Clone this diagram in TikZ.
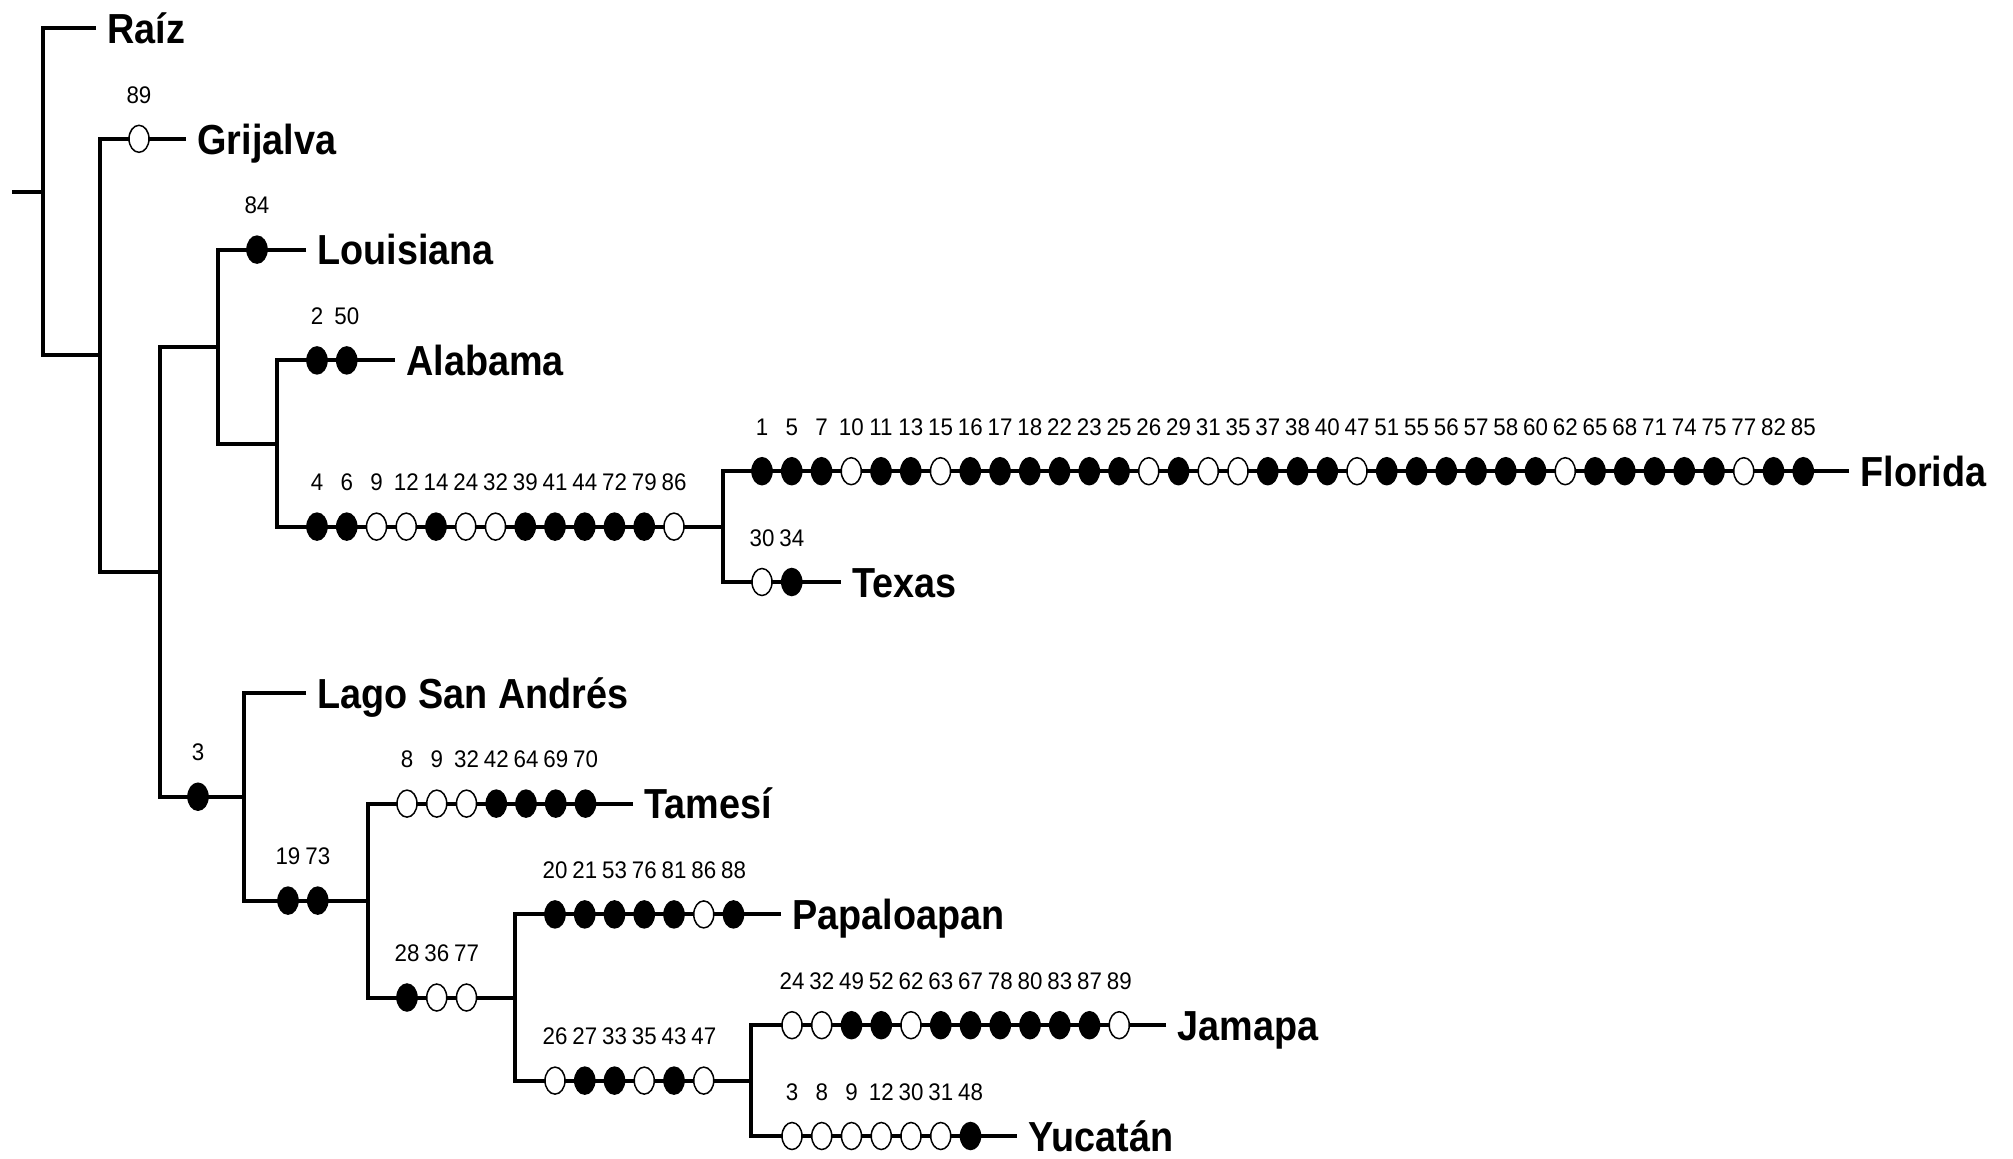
\documentclass[tikz,border=0pt]{standalone}
\usepackage{fontspec}
\setmainfont{Liberation Sans}
\newfontfamily\taxfam[FakeStretch=0.9]{Liberation Sans}
\newfontfamily\numfam[FakeStretch=0.93]{Liberation Sans}
\usetikzlibrary{shapes.geometric}
\colorlet{F}{black}
\colorlet{O}{white}
\newcommand\mutrow[4]{%
  \foreach \lab/\f [count=\i] in {#4}{%
    \node[mut, fill=\f] (#1\i) at ({#2+(\i-1)*29.75},{#3}) {};
    \node[num] (#1n\i) at ({#2+(\i-1)*29.75},{#3-44}) {\lab};
  }}
\begin{document}
\begin{tikzpicture}[x=0.5pt,y=-0.5pt,
  br/.style={line width=2pt, line join=miter},
  mut/.style={ellipse, draw, line width=0.75pt, minimum width=10pt, minimum height=13.5pt, inner sep=0pt},
  num/.style={font=\numfam\fontsize{12pt}{14pt}\selectfont, inner sep=0pt},
  tax/.style={anchor=base west, xshift=5.5pt, yshift=-7.6pt, inner sep=0pt,
    font=\taxfam\bfseries\fontsize{21pt}{25pt}\selectfont}]
\useasboundingbox (0,0) rectangle (2013,1158);
% internal nodes
\coordinate (stub) at (12,191.6);
\coordinate (c0) at (43,191.6);
\coordinate (c1) at (100,355.2);
\coordinate (c2) at (160,571.6);
\coordinate (cL) at (218,346.5);
\coordinate (cA) at (277,443.5);
\coordinate (cF) at (723,526.6);
\coordinate (cS) at (244,796.7);
\coordinate (cT) at (368,900.6);
\coordinate (cP) at (515,997.5);
\coordinate (cJ) at (751,1080.6);
% tip line ends
\coordinate (eRaiz) at (96,28);
\coordinate (eGri) at (186,138.8);
\coordinate (eLou) at (306,249.6);
\coordinate (eAla) at (395,360.4);
\coordinate (eFlo) at (1849,471.2);
\coordinate (eTex) at (841,582);
\coordinate (eLago) at (306,692.8);
\coordinate (eTam) at (633,803.6);
\coordinate (ePap) at (781,914.4);
\coordinate (eJam) at (1166,1025.2);
\coordinate (eYuc) at (1017,1136);
% branches
\draw[br] (stub) -- (c0);
\draw[br] (eRaiz) -| (c0) |- (c1);
\draw[br] (eGri) -| (c1) |- (c2);
\draw[br] (cL) -| (c2) |- (cS);
\draw[br] (eLou) -| (cL) |- (cA);
\draw[br] (eAla) -| (cA) |- (cF);
\draw[br] (eFlo) -| (cF) |- (eTex);
\draw[br] (eLago) -| (cS) |- (cT);
\draw[br] (eTam) -| (cT) |- (cP);
\draw[br] (ePap) -| (cP) |- (cJ);
\draw[br] (eJam) -| (cJ) |- (eYuc);
% taxa
\node[tax] (tRaiz) at (eRaiz) {Raíz};
\node[tax] (tGri) at (eGri) {Grijalva};
\node[tax] (tLou) at (eLou) {Louisiana};
\node[tax] (tAla) at (eAla) {Alabama};
\node[tax] (tFlo) at (eFlo) {Florida};
\node[tax] (tTex) at (eTex) {Texas};
\node[tax] (tLago) at (eLago) {Lago San Andrés};
\node[tax] (tTam) at (eTam) {Tamesí};
\node[tax] (tPap) at (ePap) {Papaloapan};
\node[tax] (tJam) at (eJam) {Jamapa};
\node[tax] (tYuc) at (eYuc) {Yucatán};
% character changes
\mutrow{gri}{139}{138.8}{89/O}
\mutrow{lou}{257}{249.6}{84/F}
\mutrow{ala}{317}{360.4}{2/F,50/F}
\mutrow{ft}{317}{526.6}{4/F,6/F,9/O,12/O,14/F,24/O,32/O,39/F,41/F,44/F,72/F,79/F,86/O}
\mutrow{flo}{762}{471.2}{1/F,5/F,7/F,10/O,11/F,13/F,15/O,16/F,17/F,18/F,22/F,23/F,25/F,26/O,29/F,31/O,35/O,37/F,38/F,40/F,47/O,51/F,55/F,56/F,57/F,58/F,60/F,62/O,65/F,68/F,71/F,74/F,75/F,77/O,82/F,85/F}
\mutrow{tex}{762}{582}{30/O,34/F}
\mutrow{ls}{198}{796.7}{3/F}
\mutrow{tp}{288}{900.6}{19/F,73/F}
\mutrow{tam}{407}{803.6}{8/O,9/O,32/O,42/F,64/F,69/F,70/F}
\mutrow{pj}{407}{997.5}{28/F,36/O,77/O}
\mutrow{pap}{555}{914.4}{20/F,21/F,53/F,76/F,81/F,86/O,88/F}
\mutrow{jy}{555}{1080.6}{26/O,27/F,33/F,35/O,43/F,47/O}
\mutrow{jam}{792}{1025.2}{24/O,32/O,49/F,52/F,62/O,63/F,67/F,78/F,80/F,83/F,87/F,89/O}
\mutrow{yuc}{792}{1136}{3/O,8/O,9/O,12/O,30/O,31/O,48/F}
\end{tikzpicture}
\end{document}
